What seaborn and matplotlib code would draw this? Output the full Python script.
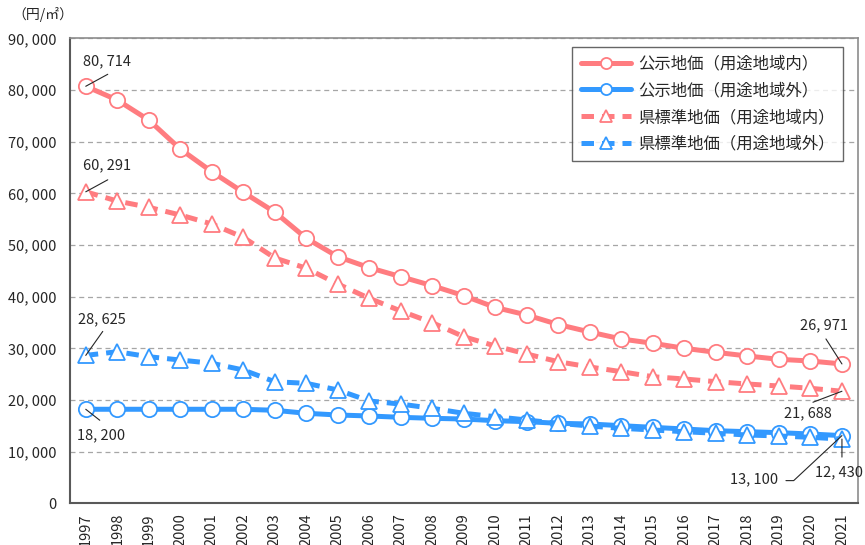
import matplotlib
matplotlib.use("Agg")
import matplotlib.pyplot as plt
import seaborn as sns
import pandas as pd

years = list(range(1997, 2022))
kouji_in = [80714, 78050, 74180, 68570, 64180, 60190, 56360, 51290, 47730, 45600,
            43860, 42110, 40180, 37900, 36440, 34600, 33150, 31800, 30970, 30000,
            29220, 28510, 27870, 27540, 26971]
kouji_out = [18200, 18200, 18200, 18200, 18200, 18200, 18000, 17420, 17090, 16900,
             16640, 16450, 16310, 15990, 15800, 15480, 15350, 15020, 14700, 14380,
             14050, 13860, 13670, 13410, 13100]
ken_in = [60291, 58500, 57290, 55800, 54060, 51480, 47480, 45500, 42440, 39670,
          37220, 34950, 32240, 30440, 28890, 27400, 26380, 25470, 24500, 24060,
          23540, 23090, 22700, 22260, 21688]
ken_out = [28625, 29340, 28370, 27730, 27100, 25800, 23530, 23220, 21930, 19800,
           19200, 18380, 17420, 16760, 16120, 15480, 14960, 14510, 14190, 13860,
           13550, 13220, 13030, 12770, 12430]
labels = ["公示地価（用途地域内）", "公示地価（用途地域外）",
          "県標準地価（用途地域内）", "県標準地価（用途地域外）"]
y_ticks = [0, 10000, 20000, 30000, 40000, 50000, 60000, 70000, 80000, 90000]
unit_label = "（円/㎡）"

sns.set_theme(style="white")
plt.rcParams["font.family"] = ["Noto Sans CJK JP", "DejaVu Sans"]

RED = "#FF7C80"
BLUE = "#3399FF"

fig = plt.figure(figsize=(8.65, 5.45), dpi=100)
ax = fig.add_axes([70 / 865, 1 - 503.3 / 545, (857.7 - 70) / 865, (503.3 - 38.3) / 545])

series = [
    (kouji_in, RED, "o", "-"),
    (kouji_out, BLUE, "o", "-"),
    (ken_in, RED, "^", (0, (2.5, 1.6))),
    (ken_out, BLUE, "^", (0, (2.5, 1.6))),
]
for (vals, col, mk, ls), lab in zip(series, labels):
    df = pd.DataFrame({"year": years, "value": vals})
    sns.lineplot(data=df, x="year", y="value", ax=ax, color=col, marker=mk,
                 markersize=11, markerfacecolor="white", markeredgecolor=col,
                 markeredgewidth=1.3, linewidth=3.6, linestyle=ls, label=lab)

ax.set_xlim(years[0] - 0.5, years[-1] + 0.5)
ax.set_ylim(0, 90000)
ax.set_xticks(years)
ax.set_xticklabels([str(y) for y in years], rotation=90, fontsize=10.5)
ax.set_yticks(y_ticks)
ax.set_yticklabels([f"{v:,}".replace(",", ", ") for v in y_ticks], fontsize=10.5)
ax.tick_params(axis="both", length=0)
ax.tick_params(axis="y", pad=10)
ax.tick_params(axis="x", pad=7)
ax.set_xlabel("")
ax.set_ylabel("")
ax.yaxis.grid(True, linestyle=(0, (4, 3)), color="#A6A6A6", linewidth=0.9)
ax.xaxis.grid(False)
for s in ["left", "bottom"]:
    ax.spines[s].set_color("#595959")
    ax.spines[s].set_linewidth(1.5)
for s in ["top", "right"]:
    ax.spines[s].set_color("#8C8C8C")
    ax.spines[s].set_linewidth(1.2)

leg = ax.legend(loc="upper right", bbox_to_anchor=(0.981, 0.981), borderaxespad=0,
                fontsize=11.8, frameon=True, fancybox=False, handlelength=3.1,
                handletextpad=0.4, labelspacing=0.6, borderpad=0.5)
leg.get_frame().set_edgecolor("#404040")
leg.get_frame().set_linewidth(1.0)
for h in leg.get_lines():
    h.set_markersize(8)

fig.text(12 / 865, 1 - 14 / 545, unit_label, fontsize=10, ha="left", va="center")

def note(x, y, text, line_off, text_off, conn=None):
    ap = dict(arrowstyle="-", color="#262626", lw=0.8, shrinkA=0, shrinkB=0)
    if conn:
        ap["connectionstyle"] = conn
    ax.annotate("", xy=(x, y), xytext=line_off, textcoords="offset pixels",
                arrowprops=ap, annotation_clip=False)
    ax.annotate(text, xy=(x, y), xytext=text_off, textcoords="offset pixels",
                ha="center", va="center", fontsize=10.5, annotation_clip=False)

fmt = lambda v: f"{v:,}".replace(",", ", ")
note(years[0], kouji_in[0], fmt(kouji_in[0]), (22, 12), (21, 25))
note(years[0], ken_in[0], fmt(ken_in[0]), (22, 12), (21, 26))
note(years[0], ken_out[0], fmt(ken_out[0]), (17, 24), (16, 36))
note(years[0], kouji_out[0], fmt(kouji_out[0]), (14, -11), (15, -26))
note(years[-1], kouji_in[-1], fmt(kouji_in[-1]), (-16, 25), (-18, 39))
note(years[-1], ken_in[-1], fmt(ken_in[-1]), (-29, -11), (-34, -22))
note(years[-1], kouji_out[-1], fmt(kouji_out[-1]), (-56, -45), (-88, -44),
     conn="angle,angleA=0,angleB=43,rad=0")
note(years[-1], ken_out[-1], fmt(ken_out[-1]), (0, -18), (-3, -33))

fig.savefig("out.png", dpi=100)
